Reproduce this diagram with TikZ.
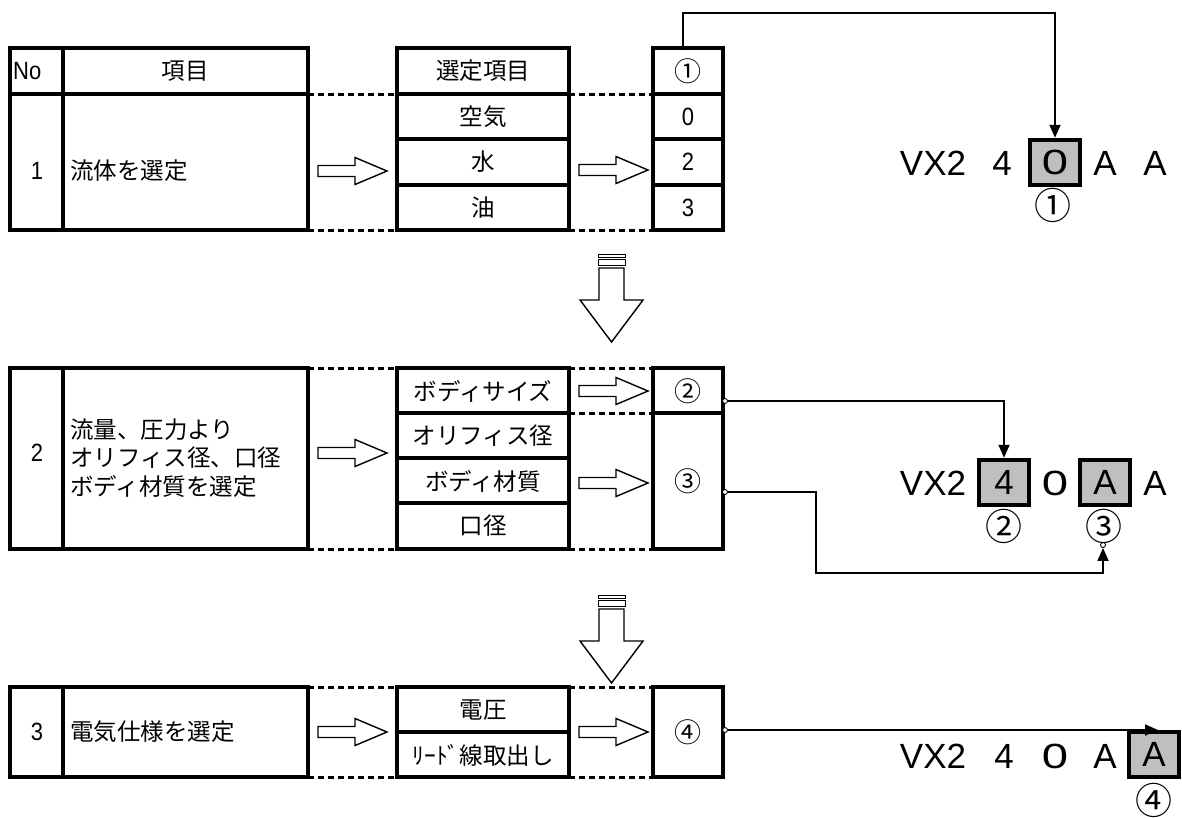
\documentclass[tikz,border=0pt]{standalone}
\usepackage{fontspec}
\setmainfont{Noto Sans CJK JP}
\newfontfamily\latn[FakeStretch=0.88]{Liberation Sans}
\newfontfamily\codef{Liberation Sans}
\usetikzlibrary{arrows.meta}
\definecolor{codegray}{RGB}{191,191,191}
\tikzset{
  tbl/.style={line width=3.4pt},
  dsh/.style={line width=3pt, dash pattern=on 6pt off 4pt},
  jp/.style={font=\fontsize{23.5}{28.5}\selectfont, inner sep=0pt},
  num/.style={font=\latn\fontsize{25}{28}\selectfont, inner sep=0pt},
  circ/.style={font=\fontsize{27}{29}\selectfont, inner sep=0pt},
  bigcirc/.style={font=\fontsize{37}{40}\selectfont, inner sep=0pt},
  hol/.style={line width=1.4pt, fill=white},
  conn/.style={line width=1.8pt, -{Triangle[width=11pt,length=13pt]}},
  dotc/.style={circle, draw, fill=white, line width=0.9pt, minimum size=5pt, inner sep=0pt},
  code/.style={font=\codef\fontsize{35}{40}\selectfont, inner sep=0pt, anchor=base},
  codebox/.style={draw, line width=4.5pt, fill=codegray, minimum width=50pt, minimum height=45pt, inner sep=0pt, font=\codef\fontsize{35}{40}\selectfont},
  pics/harr/.style={code={\draw[hol] (0,-5.5) -- (37,-5.5) -- (37,-13.5) -- (69,0) -- (37,13.5) -- (37,5.5) -- (0,5.5) -- cycle;}},
  pics/darr/.style={code={
    \draw[line width=1pt, fill=white] (-13.5,0) rectangle (13.5,3.5);
    \draw[line width=1pt, fill=white] (-13.5,5.5) rectangle (13.5,11);
    \draw[hol] (-12.5,14) -- (-12.5,46) -- (-31.5,46) -- (0,88) -- (31.5,46) -- (12.5,46) -- (12.5,14) -- cycle;}}
}
\newcommand{\rz}{\scalebox{1.35}[1]{0}}
\begin{document}
\begin{tikzpicture}[x=1pt,y=-1pt]
\useasboundingbox (0,0) rectangle (1182,817);
\fill[white] (0,0) rectangle (1182,817);

% ================= Row 1 =================
\draw[tbl] (10,48) rectangle (308,230);
\draw[tbl] (63,48) -- (63,230);
\draw[tbl] (10,94) -- (308,94);
\node[num, anchor=west] (no) at (13,71) {No};
\node[jp] (koumoku) at (185,71) {項目};
\node[num] (n1) at (37,171) {1};
\node[jp, anchor=west] (t1) at (70,171) {流体を選定};
\draw[dsh] (308,94) -- (397,94);
\draw[dsh] (308,230) -- (397,230);
\draw[tbl] (397,48) rectangle (569,230);
\draw[tbl] (397,94) -- (569,94);
\draw[tbl] (397,139) -- (569,139);
\draw[tbl] (397,185) -- (569,185);
\node[jp] (sel) at (483,71) {選定項目};
\node[jp] (air) at (483,117) {空気};
\node[jp] (water) at (483,162) {水};
\node[jp] (oil) at (483,208) {油};
\draw[dsh] (569,94) -- (653,94);
\draw[dsh] (569,230) -- (653,230);
\draw[tbl] (653,48) rectangle (723,230);
\draw[tbl] (653,94) -- (723,94);
\draw[tbl] (653,139) -- (723,139);
\draw[tbl] (653,185) -- (723,185);
\node[circ] (c1) at (688,71) {①};
\node[num] (v0) at (688,117) {0};
\node[num] (v2) at (688,162) {2};
\node[num] (v3) at (688,208) {3};
\pic at (318,171) {harr};
\pic at (579,170) {harr};

% code row 1
\node[code] (r1a) at (933,175) {VX2};
\node[code] (r1b) at (1002,175) {4};
\node[codebox] (b1) at (1055,162.5) {\rz};
\node[code] (r1d) at (1105,175) {A};
\node[code] (r1e) at (1155,175) {A};
\node[bigcirc] (k1) at (1053,205) {①};
\coordinate (s1) at (683,50);
\draw[conn] (s1) -- ++(0,-37) -| (b1.north);

\pic at (611.5,254) {darr};

% ================= Row 2 =================
\draw[tbl] (10,368) rectangle (308,549);
\draw[tbl] (63,368) -- (63,549);
\node[num] (n2) at (37,453) {2};
\node[jp, anchor=west, align=left] (t2) at (70,458) {流量、圧力より\\オリフィス径、口径\\ボディ材質を選定};
\draw[dsh] (308,368) -- (397,368);
\draw[dsh] (308,549) -- (397,549);
\draw[tbl] (397,368) rectangle (569,549);
\draw[tbl] (397,413) -- (569,413);
\draw[tbl] (397,458) -- (569,458);
\draw[tbl] (397,503) -- (569,503);
\node[jp] (body) at (483,391) {ボディサイズ};
\node[jp] (orif) at (483,436) {オリフィス径};
\node[jp] (mat) at (483,481) {ボディ材質};
\node[jp] (port) at (483,526) {口径};
\draw[dsh] (569,368) -- (653,368);
\draw[dsh] (569,413) -- (653,413);
\draw[dsh] (569,549) -- (653,549);
\draw[tbl] (653,368) rectangle (723,549);
\draw[tbl] (653,413) -- (723,413);
\node[circ] (c2) at (688,391) {②};
\node[circ] (c3) at (688,481) {③};
\pic at (318,453) {harr};
\pic at (579,391) {harr};
\pic at (579,483) {harr};

% code row 2
\node[code] (r2a) at (933,495) {VX2};
\node[codebox] (b2) at (1004,482.5) {4};
\node[code] (r2c) at (1055,495) {\rz};
\node[codebox] (b3) at (1105,482.5) {A};
\node[code] (r2e) at (1155,495) {A};
\node[bigcirc] (k2) at (1004,526) {②};
\node[bigcirc] (k3) at (1104,526) {③};
\node[dotc] (s2) at (725,401) {};
\draw[conn] (s2.east) -| (b2.north);
\node[dotc] (s3) at (725,492) {};
\node[dotc] (e3) at (1103,545) {};
\draw[conn] (s3.east) -- ++(88,0) -- ++(0,81) -| (e3.south);

\pic at (611.5,595) {darr};

% ================= Row 3 =================
\draw[tbl] (10,687) rectangle (308,777);
\draw[tbl] (63,687) -- (63,777);
\node[num] (n3) at (37,732) {3};
\node[jp, anchor=west] (t3) at (70,732) {電気仕様を選定};
\draw[dsh] (308,687) -- (397,687);
\draw[dsh] (308,777) -- (397,777);
\draw[tbl] (397,687) rectangle (569,777);
\draw[tbl] (397,732) -- (569,732);
\node[jp] (volt) at (483,710) {電圧};
\node[jp] (lead) at (483,755) {ﾘｰﾄﾞ線取出し};
\draw[dsh] (569,687) -- (653,687);
\draw[dsh] (569,777) -- (653,777);
\draw[tbl] (653,687) rectangle (723,777);
\node[circ] (c4) at (688,732) {④};
\pic at (318,732) {harr};
\pic at (579,732) {harr};

% code row 3
\node[code] (r3a) at (933,768) {VX2};
\node[code] (r3b) at (1004,768) {4};
\node[code] (r3c) at (1055,768) {\rz};
\node[code] (r3d) at (1105,768) {A};
\node[codebox] (b4) at (1154,754.5) {A};
\node[bigcirc] (k4) at (1154,800) {④};
\node[dotc] (s4) at (725,730) {};
\coordinate (e4) at (1158,730);
\draw[conn] (s4.east) -- (e4);
\end{tikzpicture}
\end{document}
